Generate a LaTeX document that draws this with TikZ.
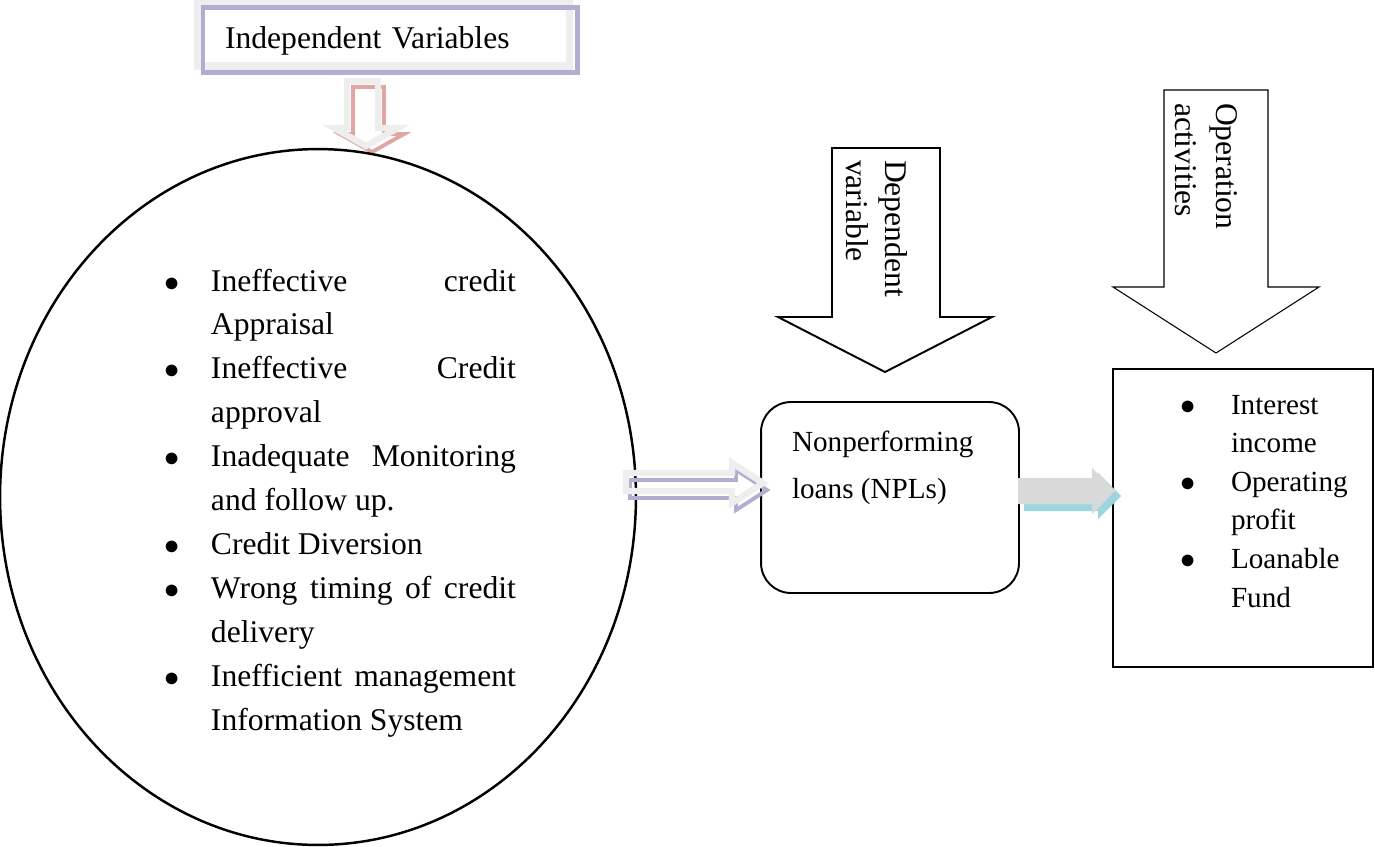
\documentclass[tikz,border=0pt]{standalone}
\usepackage{fontspec}
\setmainfont{Liberation Serif}
\usepackage{array}
\usetikzlibrary{positioning,calc,shapes.geometric}

\definecolor{bevelgray}{HTML}{EEEEEE}
\definecolor{framepurple}{HTML}{B4ADD2}
\definecolor{shadowpink}{HTML}{E2A6A2}
\definecolor{shadowcyan}{HTML}{9DD6DE}
\definecolor{fillgray}{HTML}{D9D9D9}

\begin{document}
\begin{tikzpicture}[x=0.02cm, y=-0.02cm,
    txt/.style={font=\fontsize{18}{25}\selectfont, inner sep=0pt, outer sep=0pt},
    box/.style={draw, line width=1.1pt, inner sep=0pt, outer sep=0pt},
    bigarr/.style={draw, fill=white, line join=miter},
    hollowarr/.style={draw=bevelgray, line width=3.6pt, line join=miter},
    arrshade/.style={line width=2.2pt, line join=miter}
]
\useasboundingbox (0,0) rectangle (1375,846);

% heading box
\node[box, draw=bevelgray, line width=4pt, minimum width=7.46cm, minimum height=1.26cm,
      text width=6.34cm, inner xsep=0.56cm, align=left, txt, text height=15.4pt, text depth=0pt] (indep) at (383.5,34.5) {Independent Variables};
\draw[framepurple, line width=2.8pt] (203,7.5) rectangle (577.5,72.5);

% small arrow into the causes
\draw[arrshade, shadowpink] (353,87) -- (384,87) -- (384,134) -- (404,134) -- (372,152) -- (340,134) -- (353,134) -- cycle;
\draw[hollowarr] (347,81) -- (378,81) -- (378,128) -- (398,128) -- (366,146) -- (334,128) -- (347,128) -- cycle;

% causes
\node[box, ellipse, line width=1.4pt, minimum width=12.72cm, minimum height=13.92cm] (causes) at (318,497) {};
\node[txt, anchor=base west] (causelist) at (164,291) {%
  \begin{tabular}[t]{@{}p{0.94cm}@{}p{6.1cm}@{}}
  $\bullet$ & \makebox[\linewidth][s]{Ineffective credit}\newline Appraisal \\
  $\bullet$ & \makebox[\linewidth][s]{Ineffective Credit}\newline approval \\
  $\bullet$ & \makebox[\linewidth][s]{Inadequate Monitoring}\newline and follow up. \\
  $\bullet$ & Credit Diversion \\
  $\bullet$ & \makebox[\linewidth][s]{Wrong timing of credit}\newline delivery \\
  $\bullet$ & \makebox[\linewidth][s]{Inefficient management}\newline Information System \\
  \end{tabular}};

% NPL box
\node[box, rounded corners=0.6cm, minimum width=5.16cm, minimum height=3.82cm] (npl) at (890,497.5) {};
\node[txt, font=\fontsize{16.6}{26.5}\selectfont, anchor=north west, align=left] (npltext) at ($(npl.north west)+(31,29)$) {Nonperforming\\loans (NPLs)};

% outcome box
\node[box, minimum width=5.2cm, minimum height=5.96cm] (outcomes) at (1243,518) {};
\node[txt, font=\fontsize{16.6}{22}\selectfont, anchor=base west] (outlist) at ($(outcomes.north west)+(67,45)$) {%
  \begin{tabular}[t]{@{}p{1.02cm}@{}p{2.8cm}@{}}
  $\bullet$ & Interest\newline income \\
  $\bullet$ & Operating\newline profit \\
  $\bullet$ & Loanable\newline Fund \\
  \end{tabular}};

% dependent variable arrow
\draw[bigarr, line width=1.1pt] (832,148) -- (940,148) -- (940,317) -- (992,317) -- (885,372) -- (778,317) -- (832,317) -- cycle;
\node[txt, font=\fontsize{18}{22}\selectfont, rotate=-90, anchor=north west, align=left] (deptext) at (907,160) {Dependent\\variable};

% operation activities arrow
\draw[bigarr, line width=0.6pt] (1164,90) -- (1268,90) -- (1268,287) -- (1319,287) -- (1216,353) -- (1113,287) -- (1164,287) -- cycle;
\node[txt, font=\fontsize{18}{23}\selectfont, rotate=-90, anchor=north west, align=left] (optext) at (1237,103) {Operation\\activities};

% causes -> NPL
\draw[arrshade, framepurple] (630,480) -- (736,480) -- (736,470) -- (767,490) -- (736,510) -- (736,498) -- (630,498) -- cycle;
\draw[hollowarr] (626,473) -- (732,473) -- (732,463) -- (763,483) -- (732,503) -- (732,491) -- (626,491) -- cycle;

% NPL -> outcomes
\fill[shadowcyan] (1024,484) -- (1098,484) -- (1098,473) -- (1121,496) -- (1098,519) -- (1098,511) -- (1024,511) -- cycle;
\fill[fillgray] (1018,478) -- (1092,478) -- (1092,468) -- (1115,491) -- (1092,514) -- (1092,504) -- (1018,504) -- cycle;
\end{tikzpicture}
\end{document}
